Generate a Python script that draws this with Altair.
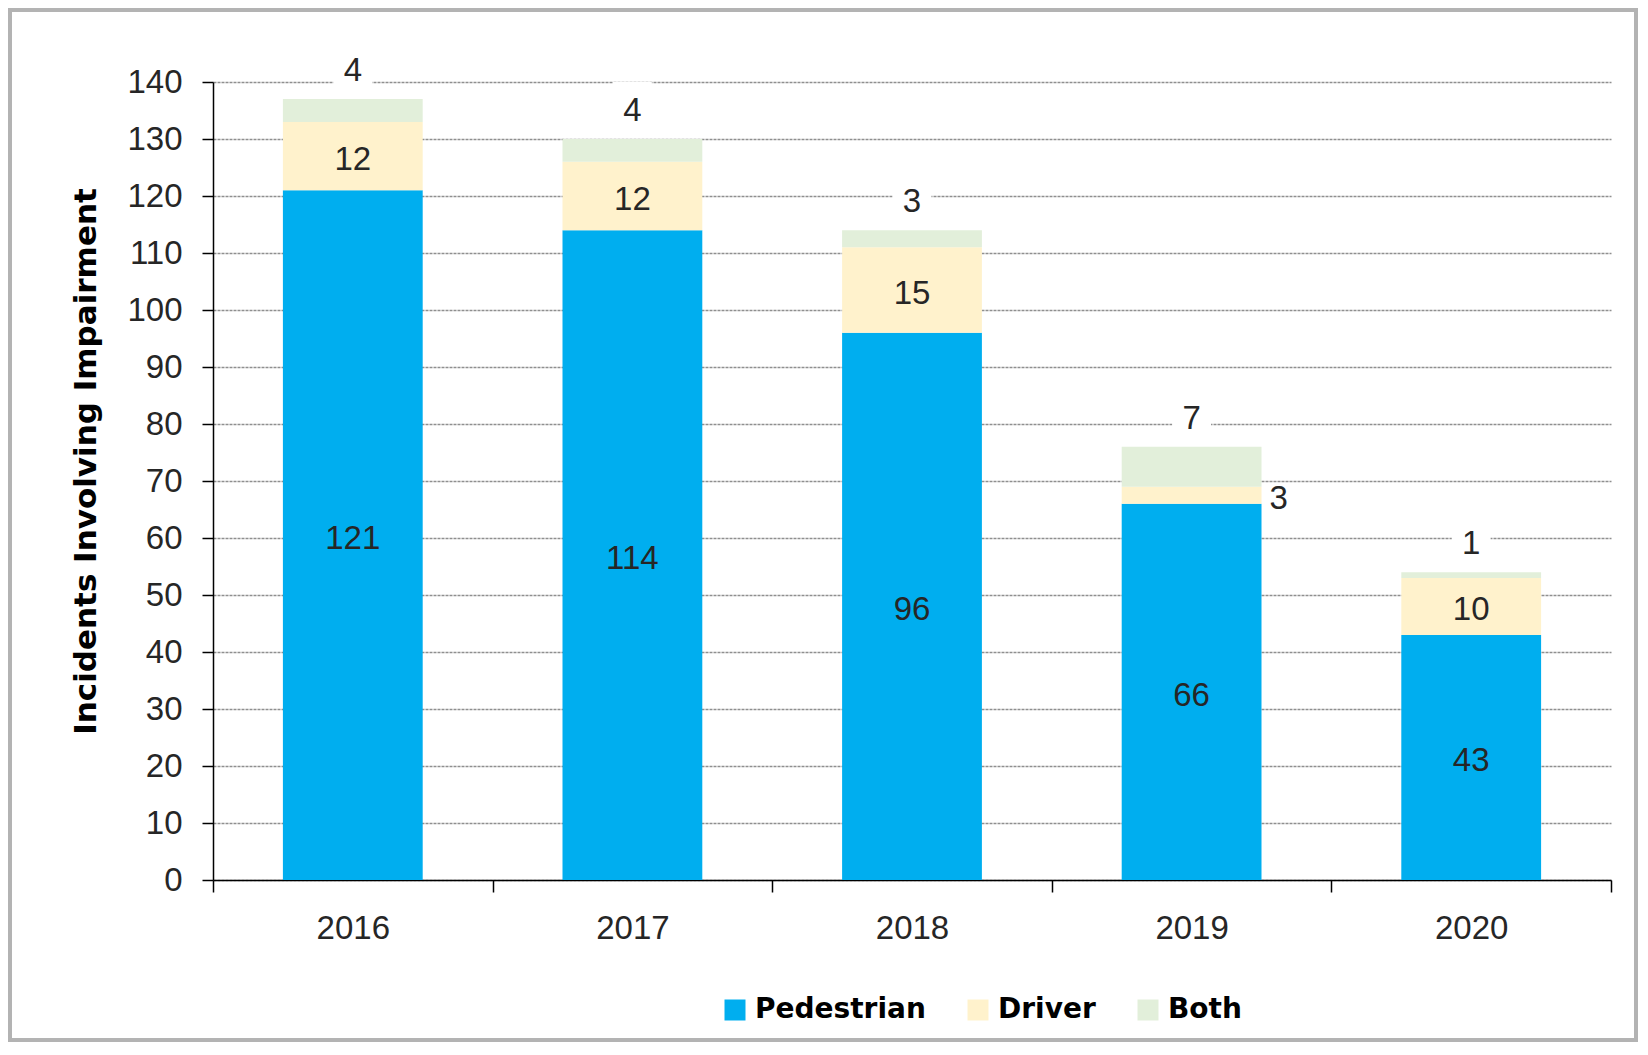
import altair as alt
import pandas as pd

years = ["2016", "2017", "2018", "2019", "2020"]
categories = ["Pedestrian", "Driver", "Both"]
pedestrian = [121, 114, 96, 66, 43]
driver = [12, 12, 15, 3, 10]
both = [4, 4, 3, 7, 1]
colors = ["#00AEEF", "#FFF2CC", "#E2EFDA"]
y_ticks = list(range(0, 141, 10))

rows = []
for i, yr in enumerate(years):
    for k, (c, vals) in enumerate(zip(categories, [pedestrian, driver, both])):
        rows.append({"year": yr, "category": c, "value": vals[i], "k": k})
df = pd.DataFrame(rows)

NUMFONT = "Liberation Sans"
BOLDFONT = "DejaVu Sans"
TXT = "#262626"

xscale = alt.Scale(paddingInner=0, paddingOuter=0)
xenc = alt.X(
    "year:N",
    sort=years,
    scale=xscale,
    axis=alt.Axis(
        title=None, labelAngle=0, tickBand="extent", domainColor="black",
        tickColor="black", tickSize=12, domainWidth=1.5, tickWidth=1.5,
        labelFont=NUMFONT, labelFontSize=33, labelColor=TXT, labelPadding=20,
        grid=False,
    ),
)
xplain = alt.X("year:N", sort=years, scale=xscale)

base = alt.Chart(df).transform_stack(
    stack="value", groupby=["year"], as_=["y0", "y1"],
    sort=[alt.SortField("k", order="ascending")],
).transform_calculate(mid="(datum.y0 + datum.y1) / 2")

yscale = alt.Scale(domain=[0, 140], nice=False)

bars = base.mark_bar(width=alt.RelativeBandSize(0.5)).encode(
    x=xenc,
    y=alt.Y(
        "y0:Q", scale=yscale,
        axis=alt.Axis(
            values=y_ticks, title="Incidents Involving Impairment",
            domainColor="black", tickColor="black", tickSize=11,
            domainWidth=1.5, tickWidth=1.5,
            labelFont=NUMFONT, labelFontSize=33, labelColor=TXT, labelPadding=20,
            gridColor="#8f8f8f", gridDash=[3, 1], gridWidth=1.5,
            titleFont=BOLDFONT, titleFontSize=31, titleFontWeight="bold",
            titleColor="black", titleAngle=270, titleX=-127, titleY=379,
            titleAlign="center", titleBaseline="middle",
        ),
    ),
    y2="y1:Q",
    color=alt.Color(
        "category:N",
        scale=alt.Scale(domain=categories, range=colors),
        legend=alt.Legend(
            title=None, orient="none", legendX=508, legendY=914,
            direction="horizontal", symbolType="square", symbolSize=441,
            symbolStrokeWidth=0, labelFont=BOLDFONT, labelFontSize=28,
            labelFontWeight="bold", labelColor="black", labelOffset=6,
            labelLimit=0, columnPadding=38, padding=0,
        ),
    ),
)

ped_labels = base.transform_filter("datum.category == 'Pedestrian'").mark_text(
    font=NUMFONT, fontSize=33, color=TXT, baseline="middle", yOffset=4
).encode(x=xplain, y=alt.Y("mid:Q", scale=yscale), text="value:Q")

drv_in = base.transform_filter("datum.category == 'Driver' && datum.value >= 5").mark_text(
    font=NUMFONT, fontSize=33, color=TXT, baseline="middle", yOffset=4
).encode(x=xplain, y=alt.Y("mid:Q", scale=yscale), text="value:Q")

drv_out = base.transform_filter("datum.category == 'Driver' && datum.value < 5").mark_text(
    font=NUMFONT, fontSize=33, color=TXT, baseline="middle", xOffset=87, yOffset=4
).encode(x=xplain, y=alt.Y("mid:Q", scale=yscale), text="value:Q")

both_box = base.transform_filter("datum.category == 'Both'").mark_point(
    shape="M-0.72,-1L0.72,-1L0.72,1L-0.72,1Z", filled=True, fill="white",
    opacity=1, strokeWidth=0, size=2916, yOffset=-30,
).encode(x=xplain, y=alt.Y("y1:Q", scale=yscale))

both_lbl = base.transform_filter("datum.category == 'Both'").mark_text(
    font=NUMFONT, fontSize=33, color=TXT, baseline="middle", yOffset=-28
).encode(x=xplain, y=alt.Y("y1:Q", scale=yscale), text="value:Q")

frame = alt.Chart(pd.DataFrame({"a": [0]})).mark_rect(
    fill=None, stroke="#b3b3b3", strokeWidth=4, clip=False
).encode(x=alt.value(-203), x2=alt.value(1423), y=alt.value(-72), y2=alt.value(958))

chart = alt.layer(frame, bars, both_box, ped_labels, drv_in, drv_out, both_lbl).properties(
    width=1398, height=798, padding=0, background="white"
).configure_view(stroke=None)

chart.save("out.html", embed_options={"renderer": "svg", "actions": False})
